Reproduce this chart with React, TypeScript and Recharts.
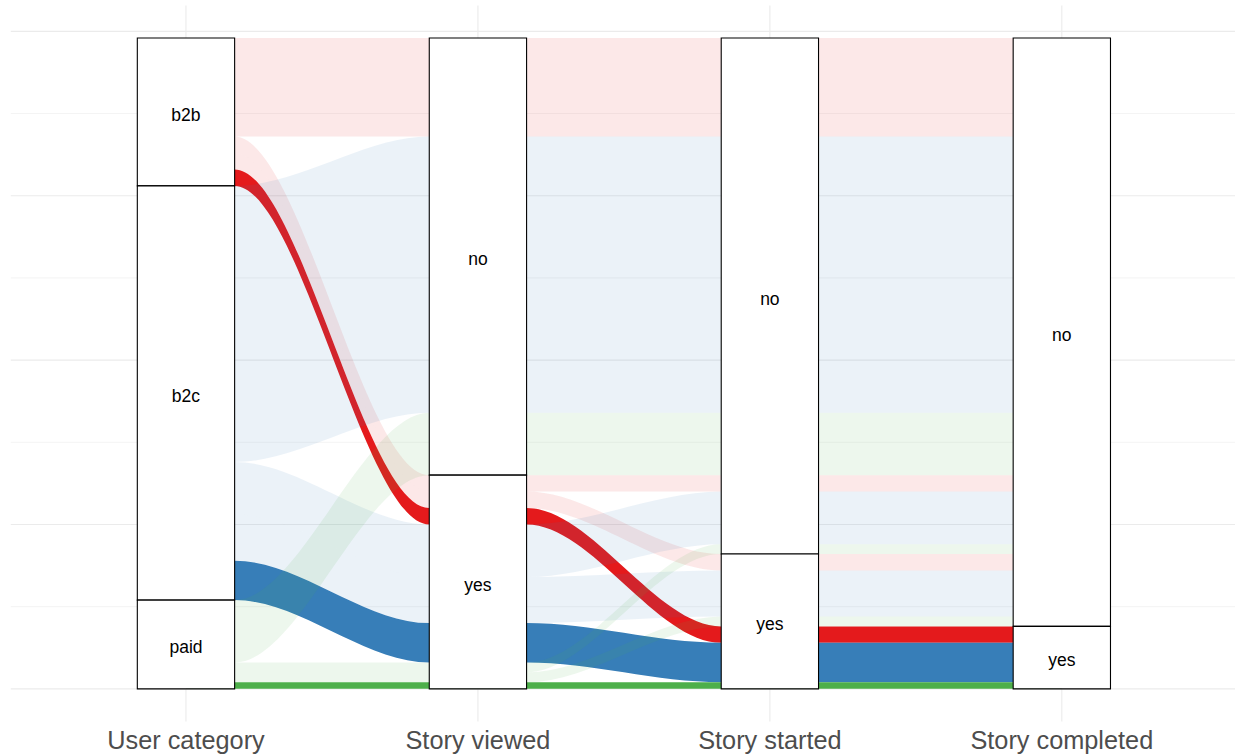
import { Area, CartesianGrid, ComposedChart, ReferenceArea, XAxis, YAxis } from "recharts"

if (typeof document !== "undefined") document.body.style.margin = "0"

const axisNames = ["User category", "Story viewed", "Story started", "Story completed"]
const userCategories = ["b2b", "b2c", "paid"]
const answerLevels = ["no", "yes"]

// one entry per alluvium: user category -> viewed -> started -> completed
const alluviumCategory = ["b2b", "b2b", "b2b", "b2b", "b2c", "b2c", "b2c", "b2c", "paid", "paid", "paid", "paid"]
const alluviumViewed = ["no", "yes", "yes", "yes", "no", "yes", "yes", "yes", "no", "yes", "yes", "yes"]
const alluviumStarted = ["no", "no", "yes", "yes", "no", "no", "yes", "yes", "no", "no", "yes", "yes"]
const alluviumCompleted = ["no", "no", "no", "yes", "no", "no", "no", "yes", "no", "no", "no", "yes"]
const alluviumUsers = [30, 5, 5, 5, 84, 16, 14, 12, 19, 3, 3, 2]

const categoryColors: Record<string, string> = { b2b: "#E41A1C", b2c: "#377EB8", paid: "#4DAF4A" }

const majorBreaks = [0, 50, 100, 150, 200]
const minorBreaks = [25, 75, 125, 175]

const paths = alluviumUsers.map((_, i) => [alluviumCategory[i], alluviumViewed[i], alluviumStarted[i], alluviumCompleted[i]])
const levelsByAxis = [userCategories, answerLevels, answerLevels, answerLevels]
const total = alluviumUsers.reduce((a, b) => a + b, 0)
const halfWidth = 1 / 6

// zigzag lode ordering, like ggalluvial
function zigzag(k: number, n: number) {
    const order: number[] = []
    for (let d = 1; d < n; d++) {
        if (k - d >= 0) order.push(k - d)
        if (k + d < n) order.push(k + d)
    }
    return order
}

const lodes = axisNames.map((_, k) => {
    const keys = [k, ...zigzag(k, axisNames.length)]
    const idx = paths.map((_, i) => i).sort((a, b) => {
        for (const j of keys) {
            const d = levelsByAxis[j].indexOf(paths[a][j]) - levelsByAxis[j].indexOf(paths[b][j])
            if (d) return d
        }
        return 0
    })
    const out: [number, number][] = []
    let top = total
    idx.forEach(i => {
        out[i] = [top - alluviumUsers[i], top]
        top -= alluviumUsers[i]
    })
    return out
})

const strata = axisNames.flatMap((_, k) => {
    let top = total
    return levelsByAxis[k].map(level => {
        const n = paths.reduce((s, p, i) => s + (p[k] === level ? alluviumUsers[i] : 0), 0)
        const s = { axis: k + 1, level, y1: top - n, y2: top }
        top -= n
        return s
    })
})

const knotAxis = [0, 0, 1, 1, 1, 2, 2, 2, 3, 3]
const knotX = knotAxis.map((k, j) => {
    const prev = knotAxis[j - 1], next = knotAxis[j + 1]
    if (prev === k && next === k) return k + 1
    if (prev !== k && next === k && j > 0) return k + 1 - halfWidth
    if (prev === k && next !== k && j < knotAxis.length - 1) return k + 1 + halfWidth
    return k + 1
})

const chartData = knotX.map((x, j) => {
    const row: Record<string, any> = { x }
    paths.forEach((_, i) => { row["a" + i] = lodes[knotAxis[j]][i] })
    return row
})

export default function App() {
    return (
        <ComposedChart
            width={1235}
            height={756}
            data={chartData}
            margin={{ top: 5.4, right: -2, left: 10.8, bottom: 0 }}
            style={{ fontFamily: "'Liberation Sans', Arial, sans-serif" }}
        >
            <CartesianGrid stroke="#EBEBEB" strokeWidth={0.6} vertical={false} horizontalValues={minorBreaks} />
            <CartesianGrid stroke="#EBEBEB" strokeWidth={1.1} verticalValues={[1, 2, 3, 4]} horizontalValues={majorBreaks} />
            <XAxis
                dataKey="x"
                type="number"
                domain={[0.4, 4.6]}
                ticks={[1, 2, 3, 4]}
                interval={0}
                tickFormatter={(v: number) => axisNames[v - 1]}
                axisLine={false}
                tickLine={false}
                tickMargin={4}
                height={34.6}
                tick={{ fontSize: 25.3, fill: "#4D4D4D" }}
            />
            <YAxis hide type="number" domain={[-0.05 * total, 1.05 * total]} allowDataOverflow />
            {paths.map((p, i) => (
                <Area
                    key={"a" + i}
                    dataKey={"a" + i}
                    type="monotoneX"
                    fill={categoryColors[p[0]]}
                    fillOpacity={p[3] === "yes" ? 1 : 0.1}
                    stroke="none"
                    dot={false}
                    activeDot={false}
                    isAnimationActive={false}
                />
            ))}
            {strata.map(s => (
                <ReferenceArea
                    key={s.axis + s.level}
                    x1={s.axis - halfWidth}
                    x2={s.axis + halfWidth}
                    y1={s.y1}
                    y2={s.y2}
                    fill="#FFFFFF"
                    fillOpacity={1}
                    stroke="#000000"
                    strokeWidth={1.1}
                    ifOverflow="visible"
                    zIndex={150}
                    label={{ value: s.level, position: "center", fill: "#000000", fontSize: 17.5, dy: 2.5 }}
                />
            ))}
        </ComposedChart>
    )
}
